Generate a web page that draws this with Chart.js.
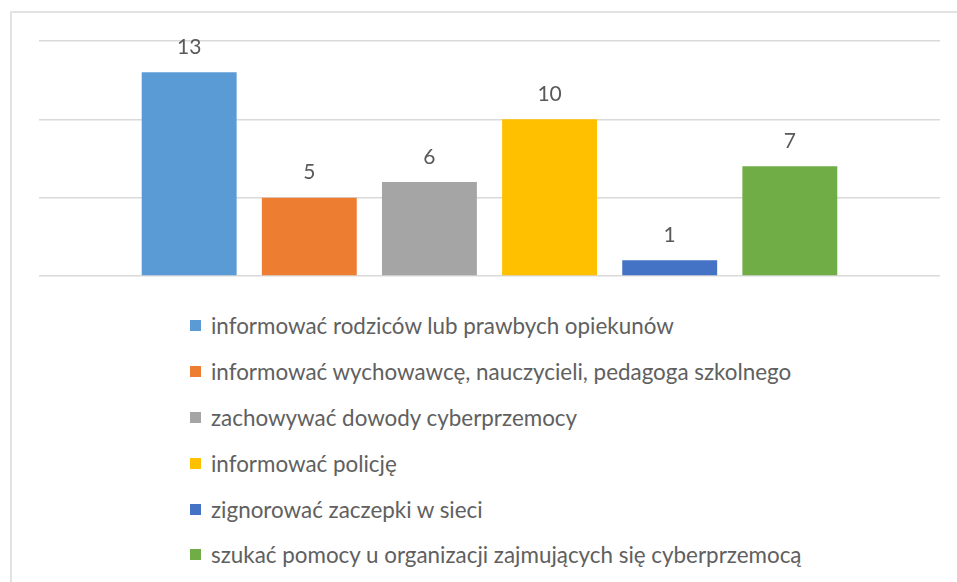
<!DOCTYPE html>
<html lang="pl">
<head>
<meta charset="utf-8">
<title>Cyberprzemoc - co robić</title>
<script src="https://cdn.jsdelivr.net/npm/chart.js@4.4.1/dist/chart.umd.min.js"></script>
<style>
    html, body {
        margin: 0;
        padding: 0;
        background: #ffffff;
    }
    #frame {
        position: absolute;
        left: 10px;
        top: 11px;
        width: 960px;
        height: 590px;
        border-top: 2px solid #e2e2e2;
        border-left: 2px solid #e2e2e2;
    }
    #chartWrap {
        position: absolute;
        left: 0;
        top: 0;
        width: 957px;
        height: 300px;
    }
    #legend {
        position: absolute;
        left: 190px;
        top: 303px;
        margin: 0;
        padding: 0;
        list-style: none;
        font-family: Lato, "Open Sans", sans-serif;
        font-size: 22.4px;
        color: #606060;
    }
    #legend li {
        display: flex;
        align-items: center;
        height: 45.8px;
        white-space: nowrap;
    }
    #legend .box {
        display: inline-block;
        width: 11px;
        height: 11px;
        margin-right: 10px;
    }
</style>
</head>
<body>
<div id="frame"></div>
<div id="chartWrap"><canvas id="answersChart"></canvas></div>
<ul id="legend"></ul>

<script>
    // odpowiedzi i liczba wskazań
    const answers = [
        'informować rodziców lub prawbych opiekunów',
        'informować wychowawcę, nauczycieli, pedagoga szkolnego',
        'zachowywać dowody cyberprzemocy',
        'informować policję',
        'zignorować zaczepki w sieci',
        'szukać pomocy u organizacji zajmujących się cyberprzemocą'
    ];
    const counts = [13, 5, 6, 10, 1, 7];
    const barColors = ['#5b9bd5', '#ed7d31', '#a5a5a5', '#ffc000', '#4472c4', '#70ad47'];
    const yTicks = [0, 5, 10, 15];

    // liczby nad słupkami
    const valueLabels = {
        id: 'valueLabels',
        afterDatasetsDraw(chart) {
            const ctx = chart.ctx;
            ctx.save();
            ctx.font = '21px Lato, "Open Sans", sans-serif';
            ctx.fillStyle = '#595959';
            ctx.textAlign = 'center';
            ctx.textBaseline = 'middle';
            chart.data.datasets.forEach(function (ds, i) {
                const bar = chart.getDatasetMeta(i).data[0];
                ctx.fillText(ds.data[0], bar.x, bar.y - 25);
            });
            ctx.restore();
        }
    };

    const datasets = answers.map(function (label, i) {
        return {
            label: label,
            data: [counts[i]],
            backgroundColor: barColors[i],
            borderWidth: 0,
            categoryPercentage: 0.8,
            barPercentage: 0.79
        };
    });

    const chart = new Chart(document.getElementById('answersChart'), {
        type: 'bar',
        data: {
            labels: [''],
            datasets: datasets
        },
        options: {
            responsive: true,
            maintainAspectRatio: false,
            animation: false,
            layout: {
                padding: { left: 39, right: 17, top: 41, bottom: 24 }
            },
            plugins: {
                legend: { display: false },
                tooltip: { enabled: false }
            },
            scales: {
                x: { display: false },
                y: {
                    min: yTicks[0],
                    max: yTicks[yTicks.length - 1],
                    ticks: { display: false, stepSize: yTicks[1] - yTicks[0] },
                    border: { display: false },
                    grid: { color: '#d9d9d9', lineWidth: 1.5, drawTicks: false }
                }
            }
        },
        plugins: [valueLabels]
    });

    // legenda pod wykresem, jedna pozycja w wierszu
    const legendList = document.getElementById('legend');
    chart.options.plugins.legend.labels.generateLabels(chart).forEach(function (item) {
        const li = document.createElement('li');
        const box = document.createElement('span');
        box.className = 'box';
        box.style.background = item.fillStyle;
        li.appendChild(box);
        li.appendChild(document.createTextNode(item.text));
        legendList.appendChild(li);
    });
</script>
</body>
</html>
